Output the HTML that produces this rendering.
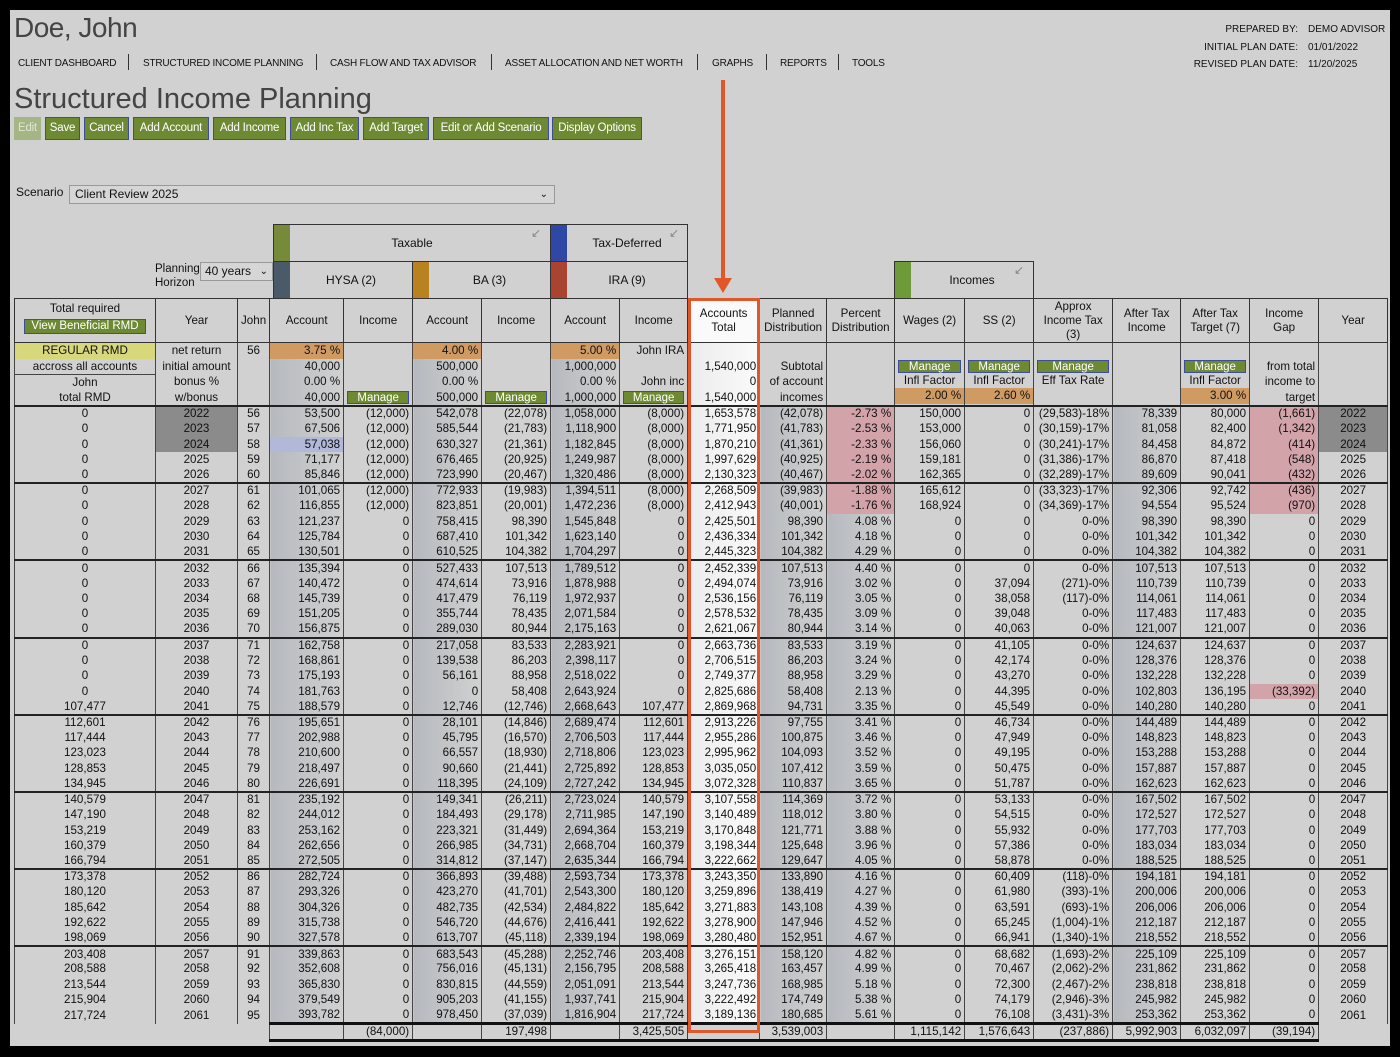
<!DOCTYPE html>
<html><head><meta charset="utf-8">
<style>
*{box-sizing:border-box;margin:0;padding:0}
body{width:1400px;height:1057px;background:#000;position:relative;overflow:hidden;font-family:"Liberation Sans",sans-serif;color:#111}
#pg{position:absolute;left:10px;top:10px;width:1380px;height:1036px;background:#d1d1d1}
.a{position:absolute;white-space:nowrap}
.h1{font-size:28px;color:#444;letter-spacing:-0.5px}
.nav{font-size:10px;letter-spacing:-0.2px;top:58px}
.sep{top:54px;width:1px;height:16px;background:#333}
.btn{position:absolute;top:117px;height:23px;background:#6d8a33;border:1px solid #3c4f96;color:#fff;font-size:11.5px;line-height:21px;text-align:center;letter-spacing:-0.2px}
.rt{font-size:10px;text-align:right}
table{position:absolute;left:14px;top:298px;border-collapse:collapse;table-layout:fixed;font-size:11.6px}
td{border-left:1px solid #444;border-right:1px solid #444;padding:0 3px;height:15.45px;line-height:14px;white-space:nowrap;overflow:hidden;text-align:right}
td:nth-child(1),td:nth-child(2),td:nth-child(3),td:nth-child(19){text-align:center}
thead td{height:44px;border:1px solid #333;text-align:center;line-height:14px;white-space:normal;background:#d1d1d1}
thead td:nth-child(10){background:#fafafa}
tr.pr td{height:62px;padding:0;vertical-align:top;border-bottom:2px solid #222}
tr.pr td div{height:15.5px;line-height:15.5px;padding:0 3px}
.o{background:#d09a63}
.y{background:#d7d77c}
.mg{margin:1px 3px 0;height:13px!important;line-height:12px!important;background:#6d8a33;border:1px solid #3c4f96;color:#fff;text-align:center;font-size:11.5px}
tbody td:nth-child(4),tbody td:nth-child(6),tbody td:nth-child(8){background:linear-gradient(to right,#b5b9be,#d1d1d1)}
tr.dr td:nth-child(11),tr.dr td:nth-child(12),tr.dr td:nth-child(16){background:linear-gradient(to right,#b5b9be,#d1d1d1)}
tbody td:nth-child(10){background:linear-gradient(to right,#ececec,#fafafa)}
tr.g td{border-top:2px solid #222}
tr.dr td.p{background:#d3a3aa}
tr.dr td.d{background:#8b8b8b}
tr.dr td.b{background:#b1b8d8}
tr.tot td{height:15px;border-top:3px solid #111;border-bottom:3px solid #111;background:#d1d1d1}
tr.tot td:nth-child(-n+3),tr.tot td:nth-child(19){border-top:none;border-bottom:none;border-left:none;border-right:none}
.box{position:absolute;border:1px solid #333;background:#d1d1d1;font-size:12px;text-align:center}
.strip{position:absolute;width:16px}
.pin{position:absolute;color:#888;font-size:12px}
</style></head><body>
<div id="pg"></div>
<div class="a h1" style="left:14px;top:12px">Doe, John</div>
<div class="a nav" style="left:18px">CLIENT DASHBOARD</div>
<div class="a sep" style="left:128px"></div>
<div class="a nav" style="left:143px">STRUCTURED INCOME PLANNING</div>
<div class="a sep" style="left:316px"></div>
<div class="a nav" style="left:330px">CASH FLOW AND TAX ADVISOR</div>
<div class="a sep" style="left:491px"></div>
<div class="a nav" style="left:505px">ASSET ALLOCATION AND NET WORTH</div>
<div class="a sep" style="left:697px"></div>
<div class="a nav" style="left:712px">GRAPHS</div>
<div class="a sep" style="left:766px"></div>
<div class="a nav" style="left:780px">REPORTS</div>
<div class="a sep" style="left:838px"></div>
<div class="a nav" style="left:852px">TOOLS</div>
<div class="a rt" style="right:102px;top:21px;line-height:17.5px">PREPARED BY:<br>INITIAL PLAN DATE:<br>REVISED PLAN DATE:</div>
<div class="a" style="left:1308px;top:21px;line-height:17.5px;font-size:10px">DEMO ADVISOR<br>01/01/2022<br>11/20/2025</div>
<div class="a h1" style="left:14px;top:83px;font-size:29px;letter-spacing:0">Structured Income Planning</div>
<div class="btn" style="left:14px;width:27px;background:#a5b585;border-color:#a5b585;color:#dfe6cf">Edit</div>
<div class="btn" style="left:45px;width:35px">Save</div>
<div class="btn" style="left:84px;width:45px">Cancel</div>
<div class="btn" style="left:133px;width:76px">Add Account</div>
<div class="btn" style="left:213px;width:73px">Add Income</div>
<div class="btn" style="left:290px;width:69px">Add Inc Tax</div>
<div class="btn" style="left:363px;width:66px">Add Target</div>
<div class="btn" style="left:433px;width:116px">Edit or Add Scenario</div>
<div class="btn" style="left:552px;width:90px">Display Options</div>
<div class="a" style="left:16px;top:185px;font-size:12px">Scenario</div>
<div class="a" style="left:69px;top:185px;width:486px;height:19px;border:1px solid #999;background:#d6d6d6;font-size:12px;line-height:17px;padding-left:5px">Client Review 2025<span style="position:absolute;right:6px;font-size:10px">&#8964;</span></div>

<div class="a" style="left:155px;top:262px;font-size:11.5px;line-height:14px">Planning<br>Horizon</div>
<div class="a" style="left:200px;top:262px;width:73px;height:19px;border:1px solid #999;background:#d6d6d6;font-size:12px;line-height:17px;padding-left:4px">40 years<span style="position:absolute;right:4px;font-size:10px">&#8964;</span></div>

<div class="box" style="left:273px;top:224px;width:278px;height:38px;line-height:37px">Taxable</div>
<div class="strip" style="left:274px;top:225px;height:36px;background:#768a3a"></div>
<div class="pin" style="left:531px;top:226px">&#8601;</div>
<div class="box" style="left:550px;top:224px;width:138px;height:38px;line-height:37px;padding-left:16px">Tax-Deferred</div>
<div class="strip" style="left:551px;top:225px;height:36px;background:#2f48a5"></div>
<div class="pin" style="left:669px;top:226px">&#8601;</div>
<div class="box" style="left:273px;top:261px;width:140px;height:38px;line-height:37px;padding-left:16px">HYSA (2)</div>
<div class="strip" style="left:274px;top:262px;height:36px;background:#4a5a68"></div>
<div class="box" style="left:412px;top:261px;width:139px;height:38px;line-height:37px;padding-left:16px">BA (3)</div>
<div class="strip" style="left:413px;top:262px;height:36px;background:#b7821f"></div>
<div class="box" style="left:550px;top:261px;width:138px;height:38px;line-height:37px;padding-left:16px">IRA (9)</div>
<div class="strip" style="left:551px;top:262px;height:36px;background:#a94431"></div>
<div class="box" style="left:894px;top:261px;width:140px;height:38px;line-height:37px;padding-left:16px">Incomes</div>
<div class="strip" style="left:895px;top:262px;height:36px;background:#6f9a3a"></div>
<div class="pin" style="left:1014px;top:263px">&#8601;</div>

<table>
<colgroup><col style="width:141px"><col style="width:82px"><col style="width:32px"><col style="width:74px"><col style="width:69px"><col style="width:69px"><col style="width:69px"><col style="width:69px"><col style="width:68px"><col style="width:72px"><col style="width:67px"><col style="width:68px"><col style="width:70px"><col style="width:69px"><col style="width:79px"><col style="width:68px"><col style="width:69px"><col style="width:69px"><col style="width:69px"></colgroup>
<thead><tr><td style="vertical-align:top;padding-top:3px">Total required<div class="mg" style="margin:3px 6px 0;height:15px!important;line-height:13px!important">View Beneficial RMD</div></td><td>Year</td><td>John</td><td>Account</td><td>Income</td><td>Account</td><td>Income</td><td>Account</td><td>Income</td><td>Accounts Total</td><td>Planned Distribution</td><td>Percent Distribution</td><td>Wages (2)</td><td>SS (2)</td><td>Approx Income Tax (3)</td><td>After Tax Income</td><td>After Tax Target (7)</td><td>Income Gap</td><td>Year</td></tr></thead>
<tbody>
<tr class="pr"><td><div class="y">REGULAR RMD</div><div>accross all accounts</div><div style="border-top:1px solid #444">John</div><div>total RMD</div></td><td><div>net return</div><div>initial amount</div><div>bonus %</div><div>w/bonus</div></td><td><div>56</div></td><td><div class="o">3.75 %</div><div>40,000</div><div>0.00 %</div><div>40,000</div></td><td><div></div><div></div><div></div><div class="mg">Manage</div></td><td><div class="o">4.00 %</div><div>500,000</div><div>0.00 %</div><div>500,000</div></td><td><div></div><div></div><div></div><div class="mg">Manage</div></td><td><div class="o">5.00 %</div><div>1,000,000</div><div>0.00 %</div><div>1,000,000</div></td><td><div>John IRA</div><div></div><div>John inc</div><div class="mg">Manage</div></td><td><div></div><div>1,540,000</div><div>0</div><div>1,540,000</div></td><td><div></div><div>Subtotal</div><div>of account</div><div>incomes</div></td><td></td><td style="text-align:center"><div></div><div class="mg">Manage</div><div>Infl Factor</div><div class="o" style="text-align:right">2.00 %</div></td><td style="text-align:center"><div></div><div class="mg">Manage</div><div>Infl Factor</div><div class="o" style="text-align:right">2.60 %</div></td><td style="text-align:center"><div></div><div class="mg">Manage</div><div>Eff Tax Rate</div><div></div></td><td></td><td style="text-align:center"><div></div><div class="mg">Manage</div><div>Infl Factor</div><div class="o" style="text-align:right">3.00 %</div></td><td><div></div><div>from total</div><div>income to</div><div>target</div></td><td></td></tr>
<tr class="dr"><td>0</td><td class="d">2022</td><td>56</td><td>53,500</td><td>(12,000)</td><td>542,078</td><td>(22,078)</td><td>1,058,000</td><td>(8,000)</td><td>1,653,578</td><td>(42,078)</td><td class="p">-2.73 %</td><td>150,000</td><td>0</td><td>(29,583)-18%</td><td>78,339</td><td>80,000</td><td class="p">(1,661)</td><td class="d">2022</td></tr>
<tr class="dr"><td>0</td><td class="d">2023</td><td>57</td><td>67,506</td><td>(12,000)</td><td>585,544</td><td>(21,783)</td><td>1,118,900</td><td>(8,000)</td><td>1,771,950</td><td>(41,783)</td><td class="p">-2.53 %</td><td>153,000</td><td>0</td><td>(30,159)-17%</td><td>81,058</td><td>82,400</td><td class="p">(1,342)</td><td class="d">2023</td></tr>
<tr class="dr"><td>0</td><td class="d">2024</td><td>58</td><td class="b">57,038</td><td>(12,000)</td><td>630,327</td><td>(21,361)</td><td>1,182,845</td><td>(8,000)</td><td>1,870,210</td><td>(41,361)</td><td class="p">-2.33 %</td><td>156,060</td><td>0</td><td>(30,241)-17%</td><td>84,458</td><td>84,872</td><td class="p">(414)</td><td class="d">2024</td></tr>
<tr class="dr"><td>0</td><td>2025</td><td>59</td><td>71,177</td><td>(12,000)</td><td>676,465</td><td>(20,925)</td><td>1,249,987</td><td>(8,000)</td><td>1,997,629</td><td>(40,925)</td><td class="p">-2.19 %</td><td>159,181</td><td>0</td><td>(31,386)-17%</td><td>86,870</td><td>87,418</td><td class="p">(548)</td><td>2025</td></tr>
<tr class="dr"><td>0</td><td>2026</td><td>60</td><td>85,846</td><td>(12,000)</td><td>723,990</td><td>(20,467)</td><td>1,320,486</td><td>(8,000)</td><td>2,130,323</td><td>(40,467)</td><td class="p">-2.02 %</td><td>162,365</td><td>0</td><td>(32,289)-17%</td><td>89,609</td><td>90,041</td><td class="p">(432)</td><td>2026</td></tr>
<tr class="dr g"><td>0</td><td>2027</td><td>61</td><td>101,065</td><td>(12,000)</td><td>772,933</td><td>(19,983)</td><td>1,394,511</td><td>(8,000)</td><td>2,268,509</td><td>(39,983)</td><td class="p">-1.88 %</td><td>165,612</td><td>0</td><td>(33,323)-17%</td><td>92,306</td><td>92,742</td><td class="p">(436)</td><td>2027</td></tr>
<tr class="dr"><td>0</td><td>2028</td><td>62</td><td>116,855</td><td>(12,000)</td><td>823,851</td><td>(20,001)</td><td>1,472,236</td><td>(8,000)</td><td>2,412,943</td><td>(40,001)</td><td class="p">-1.76 %</td><td>168,924</td><td>0</td><td>(34,369)-17%</td><td>94,554</td><td>95,524</td><td class="p">(970)</td><td>2028</td></tr>
<tr class="dr"><td>0</td><td>2029</td><td>63</td><td>121,237</td><td>0</td><td>758,415</td><td>98,390</td><td>1,545,848</td><td>0</td><td>2,425,501</td><td>98,390</td><td>4.08 %</td><td>0</td><td>0</td><td>0-0%</td><td>98,390</td><td>98,390</td><td>0</td><td>2029</td></tr>
<tr class="dr"><td>0</td><td>2030</td><td>64</td><td>125,784</td><td>0</td><td>687,410</td><td>101,342</td><td>1,623,140</td><td>0</td><td>2,436,334</td><td>101,342</td><td>4.18 %</td><td>0</td><td>0</td><td>0-0%</td><td>101,342</td><td>101,342</td><td>0</td><td>2030</td></tr>
<tr class="dr"><td>0</td><td>2031</td><td>65</td><td>130,501</td><td>0</td><td>610,525</td><td>104,382</td><td>1,704,297</td><td>0</td><td>2,445,323</td><td>104,382</td><td>4.29 %</td><td>0</td><td>0</td><td>0-0%</td><td>104,382</td><td>104,382</td><td>0</td><td>2031</td></tr>
<tr class="dr g"><td>0</td><td>2032</td><td>66</td><td>135,394</td><td>0</td><td>527,433</td><td>107,513</td><td>1,789,512</td><td>0</td><td>2,452,339</td><td>107,513</td><td>4.40 %</td><td>0</td><td>0</td><td>0-0%</td><td>107,513</td><td>107,513</td><td>0</td><td>2032</td></tr>
<tr class="dr"><td>0</td><td>2033</td><td>67</td><td>140,472</td><td>0</td><td>474,614</td><td>73,916</td><td>1,878,988</td><td>0</td><td>2,494,074</td><td>73,916</td><td>3.02 %</td><td>0</td><td>37,094</td><td>(271)-0%</td><td>110,739</td><td>110,739</td><td>0</td><td>2033</td></tr>
<tr class="dr"><td>0</td><td>2034</td><td>68</td><td>145,739</td><td>0</td><td>417,479</td><td>76,119</td><td>1,972,937</td><td>0</td><td>2,536,156</td><td>76,119</td><td>3.05 %</td><td>0</td><td>38,058</td><td>(117)-0%</td><td>114,061</td><td>114,061</td><td>0</td><td>2034</td></tr>
<tr class="dr"><td>0</td><td>2035</td><td>69</td><td>151,205</td><td>0</td><td>355,744</td><td>78,435</td><td>2,071,584</td><td>0</td><td>2,578,532</td><td>78,435</td><td>3.09 %</td><td>0</td><td>39,048</td><td>0-0%</td><td>117,483</td><td>117,483</td><td>0</td><td>2035</td></tr>
<tr class="dr"><td>0</td><td>2036</td><td>70</td><td>156,875</td><td>0</td><td>289,030</td><td>80,944</td><td>2,175,163</td><td>0</td><td>2,621,067</td><td>80,944</td><td>3.14 %</td><td>0</td><td>40,063</td><td>0-0%</td><td>121,007</td><td>121,007</td><td>0</td><td>2036</td></tr>
<tr class="dr g"><td>0</td><td>2037</td><td>71</td><td>162,758</td><td>0</td><td>217,058</td><td>83,533</td><td>2,283,921</td><td>0</td><td>2,663,736</td><td>83,533</td><td>3.19 %</td><td>0</td><td>41,105</td><td>0-0%</td><td>124,637</td><td>124,637</td><td>0</td><td>2037</td></tr>
<tr class="dr"><td>0</td><td>2038</td><td>72</td><td>168,861</td><td>0</td><td>139,538</td><td>86,203</td><td>2,398,117</td><td>0</td><td>2,706,515</td><td>86,203</td><td>3.24 %</td><td>0</td><td>42,174</td><td>0-0%</td><td>128,376</td><td>128,376</td><td>0</td><td>2038</td></tr>
<tr class="dr"><td>0</td><td>2039</td><td>73</td><td>175,193</td><td>0</td><td>56,161</td><td>88,958</td><td>2,518,022</td><td>0</td><td>2,749,377</td><td>88,958</td><td>3.29 %</td><td>0</td><td>43,270</td><td>0-0%</td><td>132,228</td><td>132,228</td><td>0</td><td>2039</td></tr>
<tr class="dr"><td>0</td><td>2040</td><td>74</td><td>181,763</td><td>0</td><td>0</td><td>58,408</td><td>2,643,924</td><td>0</td><td>2,825,686</td><td>58,408</td><td>2.13 %</td><td>0</td><td>44,395</td><td>0-0%</td><td>102,803</td><td>136,195</td><td class="p">(33,392)</td><td>2040</td></tr>
<tr class="dr"><td>107,477</td><td>2041</td><td>75</td><td>188,579</td><td>0</td><td>12,746</td><td>(12,746)</td><td>2,668,643</td><td>107,477</td><td>2,869,968</td><td>94,731</td><td>3.35 %</td><td>0</td><td>45,549</td><td>0-0%</td><td>140,280</td><td>140,280</td><td>0</td><td>2041</td></tr>
<tr class="dr g"><td>112,601</td><td>2042</td><td>76</td><td>195,651</td><td>0</td><td>28,101</td><td>(14,846)</td><td>2,689,474</td><td>112,601</td><td>2,913,226</td><td>97,755</td><td>3.41 %</td><td>0</td><td>46,734</td><td>0-0%</td><td>144,489</td><td>144,489</td><td>0</td><td>2042</td></tr>
<tr class="dr"><td>117,444</td><td>2043</td><td>77</td><td>202,988</td><td>0</td><td>45,795</td><td>(16,570)</td><td>2,706,503</td><td>117,444</td><td>2,955,286</td><td>100,875</td><td>3.46 %</td><td>0</td><td>47,949</td><td>0-0%</td><td>148,823</td><td>148,823</td><td>0</td><td>2043</td></tr>
<tr class="dr"><td>123,023</td><td>2044</td><td>78</td><td>210,600</td><td>0</td><td>66,557</td><td>(18,930)</td><td>2,718,806</td><td>123,023</td><td>2,995,962</td><td>104,093</td><td>3.52 %</td><td>0</td><td>49,195</td><td>0-0%</td><td>153,288</td><td>153,288</td><td>0</td><td>2044</td></tr>
<tr class="dr"><td>128,853</td><td>2045</td><td>79</td><td>218,497</td><td>0</td><td>90,660</td><td>(21,441)</td><td>2,725,892</td><td>128,853</td><td>3,035,050</td><td>107,412</td><td>3.59 %</td><td>0</td><td>50,475</td><td>0-0%</td><td>157,887</td><td>157,887</td><td>0</td><td>2045</td></tr>
<tr class="dr"><td>134,945</td><td>2046</td><td>80</td><td>226,691</td><td>0</td><td>118,395</td><td>(24,109)</td><td>2,727,242</td><td>134,945</td><td>3,072,328</td><td>110,837</td><td>3.65 %</td><td>0</td><td>51,787</td><td>0-0%</td><td>162,623</td><td>162,623</td><td>0</td><td>2046</td></tr>
<tr class="dr g"><td>140,579</td><td>2047</td><td>81</td><td>235,192</td><td>0</td><td>149,341</td><td>(26,211)</td><td>2,723,024</td><td>140,579</td><td>3,107,558</td><td>114,369</td><td>3.72 %</td><td>0</td><td>53,133</td><td>0-0%</td><td>167,502</td><td>167,502</td><td>0</td><td>2047</td></tr>
<tr class="dr"><td>147,190</td><td>2048</td><td>82</td><td>244,012</td><td>0</td><td>184,493</td><td>(29,178)</td><td>2,711,985</td><td>147,190</td><td>3,140,489</td><td>118,012</td><td>3.80 %</td><td>0</td><td>54,515</td><td>0-0%</td><td>172,527</td><td>172,527</td><td>0</td><td>2048</td></tr>
<tr class="dr"><td>153,219</td><td>2049</td><td>83</td><td>253,162</td><td>0</td><td>223,321</td><td>(31,449)</td><td>2,694,364</td><td>153,219</td><td>3,170,848</td><td>121,771</td><td>3.88 %</td><td>0</td><td>55,932</td><td>0-0%</td><td>177,703</td><td>177,703</td><td>0</td><td>2049</td></tr>
<tr class="dr"><td>160,379</td><td>2050</td><td>84</td><td>262,656</td><td>0</td><td>266,985</td><td>(34,731)</td><td>2,668,704</td><td>160,379</td><td>3,198,344</td><td>125,648</td><td>3.96 %</td><td>0</td><td>57,386</td><td>0-0%</td><td>183,034</td><td>183,034</td><td>0</td><td>2050</td></tr>
<tr class="dr"><td>166,794</td><td>2051</td><td>85</td><td>272,505</td><td>0</td><td>314,812</td><td>(37,147)</td><td>2,635,344</td><td>166,794</td><td>3,222,662</td><td>129,647</td><td>4.05 %</td><td>0</td><td>58,878</td><td>0-0%</td><td>188,525</td><td>188,525</td><td>0</td><td>2051</td></tr>
<tr class="dr g"><td>173,378</td><td>2052</td><td>86</td><td>282,724</td><td>0</td><td>366,893</td><td>(39,488)</td><td>2,593,734</td><td>173,378</td><td>3,243,350</td><td>133,890</td><td>4.16 %</td><td>0</td><td>60,409</td><td>(118)-0%</td><td>194,181</td><td>194,181</td><td>0</td><td>2052</td></tr>
<tr class="dr"><td>180,120</td><td>2053</td><td>87</td><td>293,326</td><td>0</td><td>423,270</td><td>(41,701)</td><td>2,543,300</td><td>180,120</td><td>3,259,896</td><td>138,419</td><td>4.27 %</td><td>0</td><td>61,980</td><td>(393)-1%</td><td>200,006</td><td>200,006</td><td>0</td><td>2053</td></tr>
<tr class="dr"><td>185,642</td><td>2054</td><td>88</td><td>304,326</td><td>0</td><td>482,735</td><td>(42,534)</td><td>2,484,822</td><td>185,642</td><td>3,271,883</td><td>143,108</td><td>4.39 %</td><td>0</td><td>63,591</td><td>(693)-1%</td><td>206,006</td><td>206,006</td><td>0</td><td>2054</td></tr>
<tr class="dr"><td>192,622</td><td>2055</td><td>89</td><td>315,738</td><td>0</td><td>546,720</td><td>(44,676)</td><td>2,416,441</td><td>192,622</td><td>3,278,900</td><td>147,946</td><td>4.52 %</td><td>0</td><td>65,245</td><td>(1,004)-1%</td><td>212,187</td><td>212,187</td><td>0</td><td>2055</td></tr>
<tr class="dr"><td>198,069</td><td>2056</td><td>90</td><td>327,578</td><td>0</td><td>613,707</td><td>(45,118)</td><td>2,339,194</td><td>198,069</td><td>3,280,480</td><td>152,951</td><td>4.67 %</td><td>0</td><td>66,941</td><td>(1,340)-1%</td><td>218,552</td><td>218,552</td><td>0</td><td>2056</td></tr>
<tr class="dr g"><td>203,408</td><td>2057</td><td>91</td><td>339,863</td><td>0</td><td>683,543</td><td>(45,288)</td><td>2,252,746</td><td>203,408</td><td>3,276,151</td><td>158,120</td><td>4.82 %</td><td>0</td><td>68,682</td><td>(1,693)-2%</td><td>225,109</td><td>225,109</td><td>0</td><td>2057</td></tr>
<tr class="dr"><td>208,588</td><td>2058</td><td>92</td><td>352,608</td><td>0</td><td>756,016</td><td>(45,131)</td><td>2,156,795</td><td>208,588</td><td>3,265,418</td><td>163,457</td><td>4.99 %</td><td>0</td><td>70,467</td><td>(2,062)-2%</td><td>231,862</td><td>231,862</td><td>0</td><td>2058</td></tr>
<tr class="dr"><td>213,544</td><td>2059</td><td>93</td><td>365,830</td><td>0</td><td>830,815</td><td>(44,559)</td><td>2,051,091</td><td>213,544</td><td>3,247,736</td><td>168,985</td><td>5.18 %</td><td>0</td><td>72,300</td><td>(2,467)-2%</td><td>238,818</td><td>238,818</td><td>0</td><td>2059</td></tr>
<tr class="dr"><td>215,904</td><td>2060</td><td>94</td><td>379,549</td><td>0</td><td>905,203</td><td>(41,155)</td><td>1,937,741</td><td>215,904</td><td>3,222,492</td><td>174,749</td><td>5.38 %</td><td>0</td><td>74,179</td><td>(2,946)-3%</td><td>245,982</td><td>245,982</td><td>0</td><td>2060</td></tr>
<tr class="dr"><td>217,724</td><td>2061</td><td>95</td><td>393,782</td><td>0</td><td>978,450</td><td>(37,039)</td><td>1,816,904</td><td>217,724</td><td>3,189,136</td><td>180,685</td><td>5.61 %</td><td>0</td><td>76,108</td><td>(3,431)-3%</td><td>253,362</td><td>253,362</td><td>0</td><td>2061</td></tr>
<tr class="tot"><td></td><td></td><td></td><td style="background:#d1d1d1"></td><td>(84,000)</td><td style="background:#d1d1d1"></td><td>197,498</td><td style="background:#d1d1d1"></td><td>3,425,505</td><td style="background:#d1d1d1"></td><td>3,539,003</td><td></td><td>1,115,142</td><td>1,576,643</td><td>(237,886)</td><td>5,992,903</td><td>6,032,097</td><td>(39,194)</td><td></td></tr>
</tbody></table>

<div class="a" style="left:688px;top:298px;width:72px;height:735px;border:3px solid #e0572a"></div>
<div class="a" style="left:721px;top:80px;width:4px;height:200px;background:#e0572a"></div>
<div class="a" style="left:714px;top:278px;width:0;height:0;border-left:9px solid transparent;border-right:9px solid transparent;border-top:15px solid #e0572a"></div>
</body></html>
